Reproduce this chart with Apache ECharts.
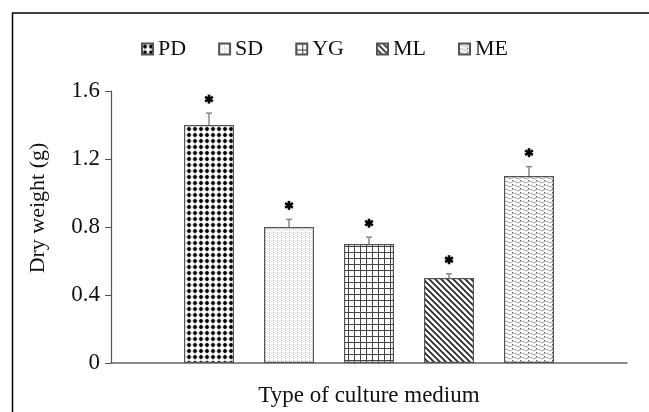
<!DOCTYPE html>
<html>
<head>
<meta charset="utf-8">
<script src="https://cdn.jsdelivr.net/npm/echarts@6/dist/echarts.min.js"></script>
<style>html,body{margin:0;padding:0;background:#fff;}#c{width:649px;height:412px;}</style>
</head>
<body>
<div id="c"></div>
<script>
const seriesNames = ['PD', 'SD', 'YG', 'ML', 'ME'];
const categories = [''];
const values = [1.4, 0.8, 0.7, 0.5, 1.1];
const errors = [0.07, 0.045, 0.04, 0.025, 0.055];
const yTicks = [0, 0.4, 0.8, 1.2, 1.6];

function tile(w, h, draw) {
  const c = document.createElement('canvas');
  c.width = w; c.height = h;
  const g = c.getContext('2d');
  g.fillStyle = '#fff'; g.fillRect(0, 0, w, h);
  draw(g, w, h);
  return { image: c, repeat: 'repeat' };
}
const patterns = [
  tile(6, 6, (g) => {
    g.strokeStyle = '#888'; g.lineWidth = 0.6;
    g.beginPath(); g.moveTo(0, 3); g.lineTo(6, 3); g.moveTo(3, 0); g.lineTo(3, 6); g.stroke();
    g.fillStyle = '#000'; g.beginPath(); g.arc(3, 3, 1.9, 0, Math.PI * 2); g.fill();
  }),
  tile(4, 4, (g) => {
    g.fillStyle = '#aaa'; g.fillRect(1, 0, 1, 1);
    g.fillStyle = '#ccc'; g.fillRect(1, 2, 1, 1); g.fillRect(3, 1, 1, 1);
  }),
  tile(6, 6, (g) => {
    g.fillStyle = '#444'; g.fillRect(0, 0, 6, 1); g.fillRect(0, 0, 1, 6);
  }),
  tile(6, 6, (g) => {
    g.strokeStyle = '#222'; g.lineWidth = 1.6;
    g.beginPath();
    g.moveTo(-1, -1); g.lineTo(7, 7);
    g.moveTo(-4, 2); g.lineTo(4, 10);
    g.moveTo(2, -4); g.lineTo(10, 4);
    g.stroke();
  }),
  tile(8, 4, (g) => {
    g.strokeStyle = '#999'; g.lineWidth = 0.9;
    g.beginPath(); g.moveTo(0, 2);
    g.quadraticCurveTo(2, 0, 4, 2); g.quadraticCurveTo(6, 4, 8, 2); g.stroke();
    g.fillStyle = '#555'; g.fillRect(0, 0, 1, 1);
  })
];

const serif = 'Liberation Serif';
const barSeries = seriesNames.map((n, i) => ({
  name: n,
  type: 'bar',
  data: [values[i]],
  barWidth: 50,
  barGap: '60%',
  itemStyle: { color: patterns[i], borderColor: '#555', borderWidth: 1.2 },
  emphasis: { disabled: true },
  z: 2
}));

const errData = values.map((v, i) => [0, v, errors[i], i]);

const errSeries = {
  type: 'custom',
  data: errData,
  silent: true,
  z: 5,
  renderItem: function (params, api) {
    const idx = api.value(3);
    const base = api.coord([api.value(0), 0]);
    const x = base[0] + (idx - 2) * 80;
    const yb = api.coord([api.value(0), api.value(1)])[1];
    const yt = api.coord([api.value(0), api.value(1) + api.value(2)])[1];
    const sy = yt - 14;
    const r = 4.5;
    const star = [];
    for (let k = 0; k < 3; k++) {
      const a = Math.PI / 2 + k * Math.PI / 3;
      star.push({
        type: 'line',
        shape: { x1: x - r * Math.cos(a), y1: sy - r * Math.sin(a), x2: x + r * Math.cos(a), y2: sy + r * Math.sin(a) },
        style: { stroke: '#000', lineWidth: 2.6 }
      });
    }
    star.push({ type: 'circle', shape: { cx: x, cy: sy, r: 2.5 }, style: { fill: '#000' } });
    return {
      type: 'group',
      children: [
        { type: 'line', shape: { x1: x, y1: yb, x2: x, y2: yt }, style: { stroke: '#888', lineWidth: 1.5 } },
        { type: 'line', shape: { x1: x - 3, y1: yt, x2: x + 3, y2: yt }, style: { stroke: '#888', lineWidth: 1.5 } }
      ].concat(star)
    };
  }
};

const chart = echarts.init(document.getElementById('c'), null, { renderer: 'canvas' });
chart.setOption({
  animation: false,
  backgroundColor: '#fff',
  textStyle: { fontFamily: serif },
  legend: {
    data: seriesNames,
    top: 33,
    left: 'center',
    itemWidth: 11,
    itemHeight: 11,
    itemGap: 32,
    icon: 'rect',
    textStyle: { fontFamily: serif, fontSize: 22, color: '#111' }
  },
  grid: { left: 111, right: 22, top: 91, bottom: 45 },
  xAxis: {
    type: 'category',
    data: categories,
    name: 'Type of culture medium',
    nameLocation: 'middle',
    nameGap: 21,
    nameTextStyle: { fontFamily: serif, fontSize: 23, color: '#111' },
    axisLine: { lineStyle: { color: '#666', width: 1.5 } },
    axisTick: { show: false },
    axisLabel: { show: false }
  },
  yAxis: {
    type: 'value',
    min: 0,
    max: 1.6,
    interval: 0.4,
    name: 'Dry weight (g)',
    nameLocation: 'middle',
    nameGap: 62,
    nameTextStyle: { fontFamily: serif, fontSize: 22, color: '#111', padding: [0, 0, 0, 38] },
    axisLine: { show: true, lineStyle: { color: '#555', width: 1.2 } },
    axisTick: { show: true, length: 6, lineStyle: { color: '#555' } },
    splitLine: { show: false },
    axisLabel: {
      fontFamily: serif, fontSize: 23, color: '#111', margin: 11,
      formatter: function (v) { return yTicks.indexOf(v) >= 0 ? String(v) : ''; }
    }
  },
  graphic: [
    { type: 'line', shape: { x1: 12, y1: 13, x2: 649, y2: 13 }, style: { stroke: '#000', lineWidth: 1.5 } },
    { type: 'line', shape: { x1: 12.5, y1: 13, x2: 12.5, y2: 412 }, style: { stroke: '#000', lineWidth: 1.5 } }
  ],
  series: barSeries.concat([errSeries])
});
</script>
</body>
</html>
